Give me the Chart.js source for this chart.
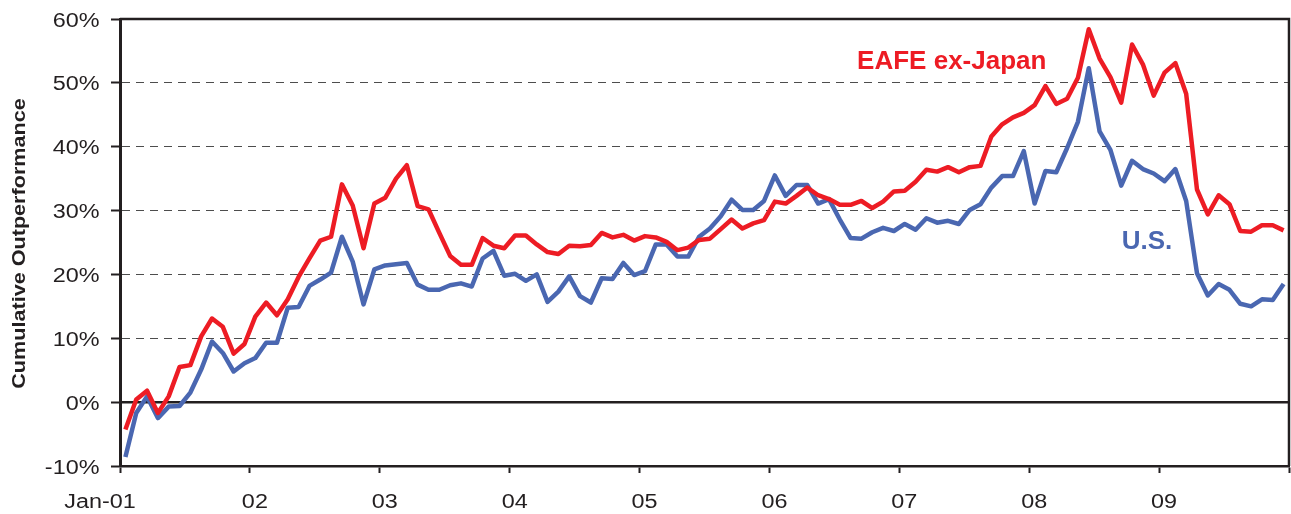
<!DOCTYPE html>
<html lang="en">
<head>
  <meta charset="UTF-8">
  <title>Cumulative Outperformance</title>
  <script src="https://cdn.jsdelivr.net/npm/chart.js"></script>
  <style>
    body {
      margin: 0;
      background: #fff;
    }
    .chart-container {
      position: relative;
      width: 1291px;
      height: 514px;
    }
  </style>
</head>
<body>
  <div class="chart-container">
    <canvas id="perfChart"></canvas>
  </div>
  <script>
    // one label per January tick on the x axis
    const yearLabels = ['Jan-01', '02', '03', '04', '05', '06', '07', '08', '09'];

    // monthly cumulative outperformance (%), Jan 2001 .. Dec 2009
    const eafeExJapan = [
      -4.3, 0.4, 1.8, -1.7, 0.9, 5.5, 5.8, 10.3, 13.1, 11.8, 7.6, 9.1,
      13.4, 15.6, 13.6, 16.1, 19.6, 22.5, 25.3, 25.9, 34.1, 30.8, 24.1, 31.1,
      32.0, 35.0, 37.1, 30.7, 30.2, 26.5, 22.9, 21.5, 21.5, 25.7, 24.5, 24.1,
      26.1, 26.1, 24.7, 23.5, 23.2, 24.5, 24.4, 24.6, 26.5, 25.8, 26.2, 25.3,
      26.0, 25.8, 25.1, 23.8, 24.2, 25.4, 25.6, 27.1, 28.6, 27.2, 28.0, 28.5,
      31.4, 31.1, 32.3, 33.6, 32.4, 31.8, 30.9, 30.9, 31.5, 30.4, 31.4, 33.0,
      33.1, 34.5, 36.4, 36.1, 36.8, 36.0, 36.8, 37.0, 41.6, 43.5, 44.6, 45.3,
      46.5, 49.5, 46.7, 47.5, 50.8, 58.4, 53.8, 50.9, 46.9, 56.0, 52.9, 48.0,
      51.6, 53.1, 48.3, 33.3, 29.4, 32.4, 31.0, 26.8, 26.7, 27.7, 27.7, 26.9
    ];
    const usOutperf = [
      -8.6, -1.7, 0.9, -2.5, -0.7, -0.6, 1.5, 5.1, 9.5, 7.7, 4.8, 6.1,
      6.9, 9.3, 9.3, 14.8, 14.9, 18.2, 19.2, 20.3, 25.9, 22.0, 15.3, 20.8,
      21.4, 21.6, 21.8, 18.4, 17.6, 17.6, 18.3, 18.6, 18.1, 22.5, 23.7, 19.8,
      20.1, 19.0, 20.0, 15.7, 17.3, 19.7, 16.6, 15.6, 19.4, 19.3, 21.8, 19.9,
      20.5, 24.7, 24.7, 22.8, 22.8, 25.9, 27.2, 29.1, 31.7, 30.1, 30.1, 31.5,
      35.5, 32.3, 34.0, 34.0, 31.1, 31.8, 28.6, 25.7, 25.6, 26.6, 27.3, 26.8,
      27.9, 27.0, 28.8, 28.1, 28.4, 27.9, 30.1, 31.0, 33.6, 35.4, 35.4, 39.3,
      31.1, 36.2, 36.0, 39.8, 43.9, 52.3, 42.4, 39.5, 33.9, 37.8, 36.5, 35.8,
      34.6, 36.5, 31.5, 20.2, 16.7, 18.5, 17.6, 15.4, 15.0, 16.1, 16.0, 18.5
    ];

    const RED = '#ed1c24';
    const BLUE = '#4a67b1';
    const INK = '#231f20';
    const FONT = '"Liberation Sans", Arial, sans-serif';

    // months sit in the middle of their slot, year ticks on the slot edges
    const toPoints = arr => arr.map((v, i) => ({ x: i + 0.5, y: v }));

    function stretchedText(ctx, text, x, y, font, sx, align) {
      ctx.save();
      ctx.translate(x, y);
      ctx.scale(sx, 1);
      ctx.font = font;
      ctx.textAlign = align;
      ctx.textBaseline = 'alphabetic';
      ctx.fillText(text, 0, 0);
      ctx.restore();
    }

    const frameAndText = {
      id: 'frameAndText',
      beforeDatasetsDraw(chart) {
        // solid zero line, under the series
        const { ctx, chartArea, scales } = chart;
        const y0 = scales.y.getPixelForValue(0);
        ctx.save();
        ctx.strokeStyle = INK;
        ctx.lineWidth = 2.5;
        ctx.beginPath();
        ctx.moveTo(chartArea.left, y0);
        ctx.lineTo(chartArea.right, y0);
        ctx.stroke();
        ctx.restore();
      },
      afterDraw(chart) {
        const { ctx, chartArea, scales } = chart;

        // top and right edges of the plot frame
        ctx.save();
        ctx.strokeStyle = INK;
        ctx.lineWidth = 2.5;
        ctx.beginPath();
        ctx.moveTo(chartArea.left, chartArea.top);
        ctx.lineTo(chartArea.right, chartArea.top);
        ctx.lineTo(chartArea.right, chartArea.bottom);
        ctx.stroke();
        ctx.restore();

        ctx.save();
        ctx.fillStyle = INK;

        // y tick labels
        scales.y.ticks.forEach(t => {
          const py = scales.y.getPixelForValue(t.value);
          stretchedText(ctx, t.value + '%', 99.5, py + 7.5, '20px ' + FONT, 1.17, 'right');
        });

        // x tick labels
        scales.x.ticks.forEach((t, i) => {
          if (i >= yearLabels.length) return;
          const px = scales.x.getPixelForValue(t.value);
          const shift = i === 0 ? -20 : 5;
          stretchedText(ctx, yearLabels[i], px + shift, 508, '20px ' + FONT, 1.17, 'center');
        });

        // axis title
        ctx.save();
        ctx.translate(20, 243.5);
        ctx.rotate(-Math.PI / 2);
        ctx.scale(1.2, 1);
        ctx.font = 'bold 18px ' + FONT;
        ctx.textAlign = 'center';
        ctx.textBaseline = 'middle';
        ctx.fillStyle = INK;
        ctx.fillText('Cumulative Outperformance', 0, 0);
        ctx.restore();

        // series names next to the lines
        ctx.font = 'bold 26px ' + FONT;
        ctx.textAlign = 'left';
        ctx.textBaseline = 'alphabetic';
        ctx.fillStyle = RED;
        ctx.fillText('EAFE ex-Japan', scales.x.getPixelForValue(68.1), scales.y.getPixelForValue(52.1));
        ctx.fillStyle = BLUE;
        ctx.fillText('U.S.', scales.x.getPixelForValue(92.55), scales.y.getPixelForValue(24.05));
        ctx.restore();
      }
    };

    new Chart(document.getElementById('perfChart'), {
      type: 'line',
      data: {
        datasets: [
          {
            label: 'EAFE ex-Japan',
            data: toPoints(eafeExJapan),
            borderColor: RED,
            borderWidth: 4.5,
            borderJoinStyle: 'round',
            pointRadius: 0,
            tension: 0
          },
          {
            label: 'U.S.',
            data: toPoints(usOutperf),
            borderColor: BLUE,
            borderWidth: 4.5,
            borderJoinStyle: 'round',
            pointRadius: 0,
            tension: 0
          }
        ]
      },
      options: {
        responsive: true,
        maintainAspectRatio: false,
        animation: false,
        layout: {
          autoPadding: false,
          padding: { left: 0, top: 19, right: 2, bottom: 0 }
        },
        plugins: {
          legend: { display: false },
          tooltip: { enabled: false }
        },
        scales: {
          x: {
            type: 'linear',
            min: 0,
            max: 108,
            afterFit: s => { s.height = 48; },
            ticks: { stepSize: 12, display: false },
            grid: {
              drawOnChartArea: false,
              drawTicks: true,
              tickLength: 7,
              tickColor: INK,
              tickWidth: 2,
              tickBorderDash: []
            },
            border: { color: INK, width: 2.5 }
          },
          y: {
            min: -10,
            max: 60,
            afterFit: s => { s.width = 120; },
            ticks: { stepSize: 10, display: false },
            grid: {
              color: c => (c.tick && [0, 60, -10].includes(c.tick.value)) ? 'rgba(0,0,0,0)' : '#4d4d4d',
              lineWidth: 1,
              drawTicks: true,
              tickLength: 9,
              tickColor: INK,
              tickWidth: 2,
              tickBorderDash: []
            },
            border: { color: INK, width: 3, dash: [8, 6] }
          }
        }
      },
      plugins: [frameAndText]
    });
  </script>
</body>
</html>
